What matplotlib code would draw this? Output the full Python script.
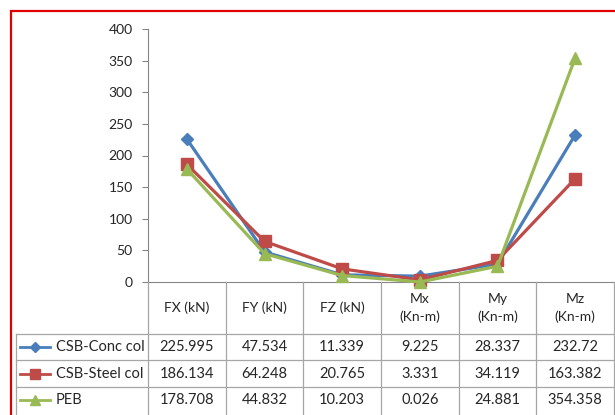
import matplotlib
matplotlib.use("Agg")
import matplotlib.pyplot as plt
from matplotlib.lines import Line2D
from matplotlib.patches import Rectangle

# ── data ─────────────────────────────────────────────────────────────────────
categories = ["FX (kN)", "FY (kN)", "FZ (kN)", "Mx\n(Kn-m)", "My\n(Kn-m)", "Mz\n(Kn-m)"]
series_names = ["CSB-Conc col", "CSB-Steel col", "PEB"]
conc_col = [225.995, 47.534, 11.339, 9.225, 28.337, 232.72]
steel_col = [186.134, 64.248, 20.765, 3.331, 34.119, 163.382]
peb = [178.708, 44.832, 10.203, 0.026, 24.881, 354.358]
value_labels = [
    ["225.995", "47.534", "11.339", "9.225", "28.337", "232.72"],
    ["186.134", "64.248", "20.765", "3.331", "34.119", "163.382"],
    ["178.708", "44.832", "10.203", "0.026", "24.881", "354.358"],
]
y_ticks = [0, 50, 100, 150, 200, 250, 300, 350, 400]

COLORS = ["#4A7EBB", "#BE4B48", "#98B954"]
MARKERS = ["D", "s", "^"]
MSIZES = [6.5, 8, 8.5]
TXT = "#262626"
GRID = "#A6A6A6"

plt.rcParams["font.family"] = ["Lato", "DejaVu Sans"]

W, H = 615, 415
fig = plt.figure(figsize=(W / 100, H / 100), dpi=100, facecolor="white")


def fx(x):
    return x / W


def fy(y):
    return 1 - y / H


# plot area in pixel space
X0, X1 = 148, 614
Y_TOP, Y_ZERO = 29, 282
ax = fig.add_axes([fx(X0), fy(Y_ZERO), fx(X1 - X0), (Y_ZERO - Y_TOP) / H])

n = len(categories)
xs = list(range(n))
for vals, col, mk, ms in zip([conc_col, steel_col, peb], COLORS, MARKERS, MSIZES):
    ax.plot(xs, vals, color=col, lw=2.3, marker=mk, ms=ms,
            markerfacecolor=col, markeredgecolor=col, zorder=3, clip_on=False)

ax.set_xlim(-0.5, n - 0.5)
ax.set_ylim(0, 400)
ax.set_yticks(y_ticks)
ax.set_xticks([])
ax.tick_params(axis="y", direction="out", length=4, width=0.8, color="#868686",
               labelcolor=TXT, labelsize=10, pad=7)
for side in ("top", "right"):
    ax.spines[side].set_visible(False)
ax.spines["left"].set_color("#868686")
ax.spines["bottom"].set_color("#868686")

# ── data table under the plot ───────────────────────────────────────────────
col_w = (X1 - X0) / n
row_edges = [282, 334, 360, 387]
row_centers = [347, 373.5, 400]
TBL_LEFT = 15.5
BOTTOM = 420


def hline(y, xa, xb):
    fig.add_artist(Line2D([fx(xa), fx(xb)], [fy(y), fy(y)], color=GRID, lw=0.9))


def vline(x, ya, yb):
    fig.add_artist(Line2D([fx(x), fx(x)], [fy(ya), fy(yb)], color=GRID, lw=0.9))


for y in row_edges[1:]:
    hline(y, TBL_LEFT, X0 + n * col_w)
vline(TBL_LEFT, row_edges[1], BOTTOM)
vline(X0, Y_ZERO, BOTTOM)
for k in range(1, n + 1):
    vline(X0 + k * col_w, Y_ZERO, BOTTOM)

# column headers
for i, cat in enumerate(categories):
    fig.text(fx(X0 + (i + 0.5) * col_w), fy((row_edges[0] + row_edges[1]) / 2), cat,
             ha="center", va="center", fontsize=10, color=TXT, linespacing=1.45)

# row labels with legend keys, then the values
for r, name in enumerate(series_names):
    yc = row_centers[r]
    fig.add_artist(Line2D([fx(20), fx(50)], [fy(yc), fy(yc)], color=COLORS[r], lw=2))
    fig.add_artist(Line2D([fx(35)], [fy(yc)], marker=MARKERS[r], ms=MSIZES[r] - 1,
                          color=COLORS[r], lw=0))
    fig.text(fx(56), fy(yc), name, ha="left", va="center", fontsize=10.5, color=TXT)
    for i, lab in enumerate(value_labels[r]):
        fig.text(fx(X0 + (i + 0.5) * col_w), fy(yc), lab,
                 ha="center", va="center", fontsize=10.5, color=TXT)

# red frame around the chart
fig.add_artist(Rectangle((fx(10.5), fy(430)), fx(640), (430 - 11) / H,
                         fill=False, edgecolor="#E00000", lw=1.6,
                         transform=fig.transFigure))

fig.savefig("out.png", dpi=100, facecolor="white")
